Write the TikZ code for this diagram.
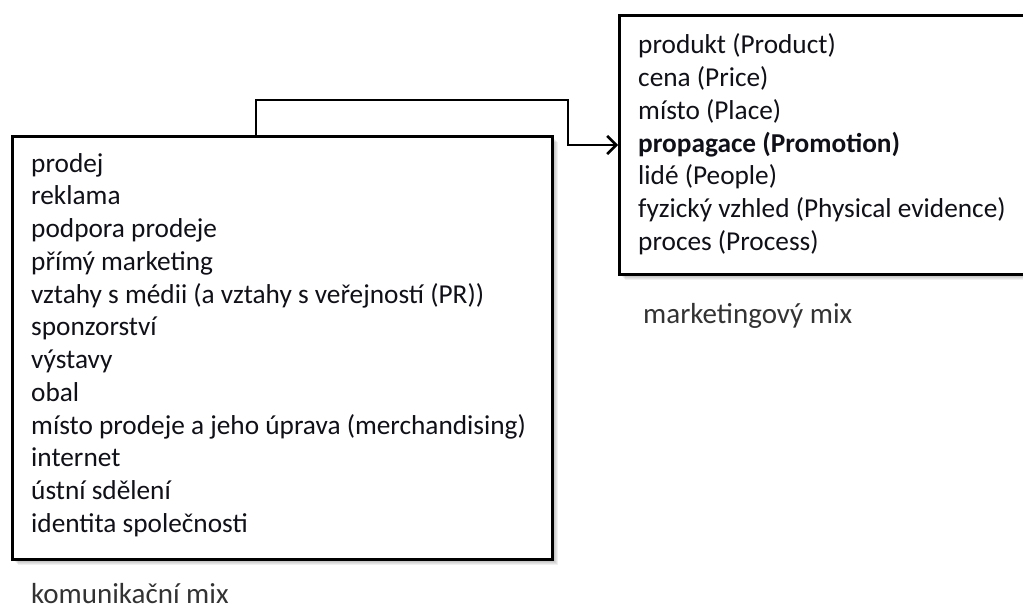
\documentclass[tikz,border=0pt]{standalone}
\usepackage{fontspec}
\setmainfont{Carlito}
\usetikzlibrary{arrows.meta}
\definecolor{ink}{HTML}{101018}
\definecolor{capgray}{HTML}{333333}
\begin{document}
\begin{tikzpicture}[x=1pt,y=-1pt,
  box/.style={draw=black, line width=3pt, fill=white, inner sep=0pt, anchor=north west},
  item/.style={anchor=base west, inner sep=0pt, text=ink, font=\fontsize{27.3}{32}\selectfont},
  caption/.style={anchor=base west, inner sep=0pt, text depth=0pt, text=capgray,
    font=\fontsize{29}{34}\selectfont},
  link/.style={draw=black, line width=2.6pt},
  shade/.style={fill=black, opacity=0.06}]
\useasboundingbox (0,0) rectangle (1023,610);

% soft shadows behind both boxes
\foreach \d in {1,...,7} {
  \fill[shade] (11+\d,135+\d) rectangle (551+\d,558+\d);
  \fill[shade] (618+\d,14+\d) rectangle (1030+\d,273+\d);
}

% boxes
\node[box, minimum width=540pt, minimum height=423pt] (comm) at (11,135) {};
\node[box, minimum width=420pt, minimum height=259pt] (mix) at (618,14) {};

% communication mix items
\foreach \t [count=\i from 0] in {prodej, reklama, podpora prodeje, přímý marketing,
  vztahy s médii (a vztahy s veřejností (PR)), sponzorství, výstavy, obal,
  místo prodeje a jeho úprava (merchandising), internet, ústní sdělení,
  identita společnosti}
  \node[item] (c\i) at (31,172+32.75*\i) {\t};

% marketing mix items
\node[item] (m0) at (638,54) {produkt (Product)};
\node[item] (m1) at (638,86.7) {cena (Price)};
\node[item] (m2) at (638,119.4) {místo (Place)};
\node[item] (m3) at (638,152.1) {\bfseries propagace (Promotion)};
\node[item] (m4) at (638,184.8) {lidé (People)};
\node[item] (m5) at (638,217.5) {fyzický vzhled (Physical evidence)};
\node[item] (m6) at (638,250.2) {proces (Process)};

% captions
\node[caption] (mixcap) at (643,323) {marketingový mix};
\node[caption] (commcap) at (31,603) {komunikační mix};

% connector from the communication mix to the marketing mix
\coordinate (up) at (256,100);
\coordinate (turn) at (568,100);
\draw[link, -{Straight Barb[length=9pt,width=18pt]}]
  (comm.north -| up) |- (turn) |- (mix.west);
\end{tikzpicture}
\end{document}
